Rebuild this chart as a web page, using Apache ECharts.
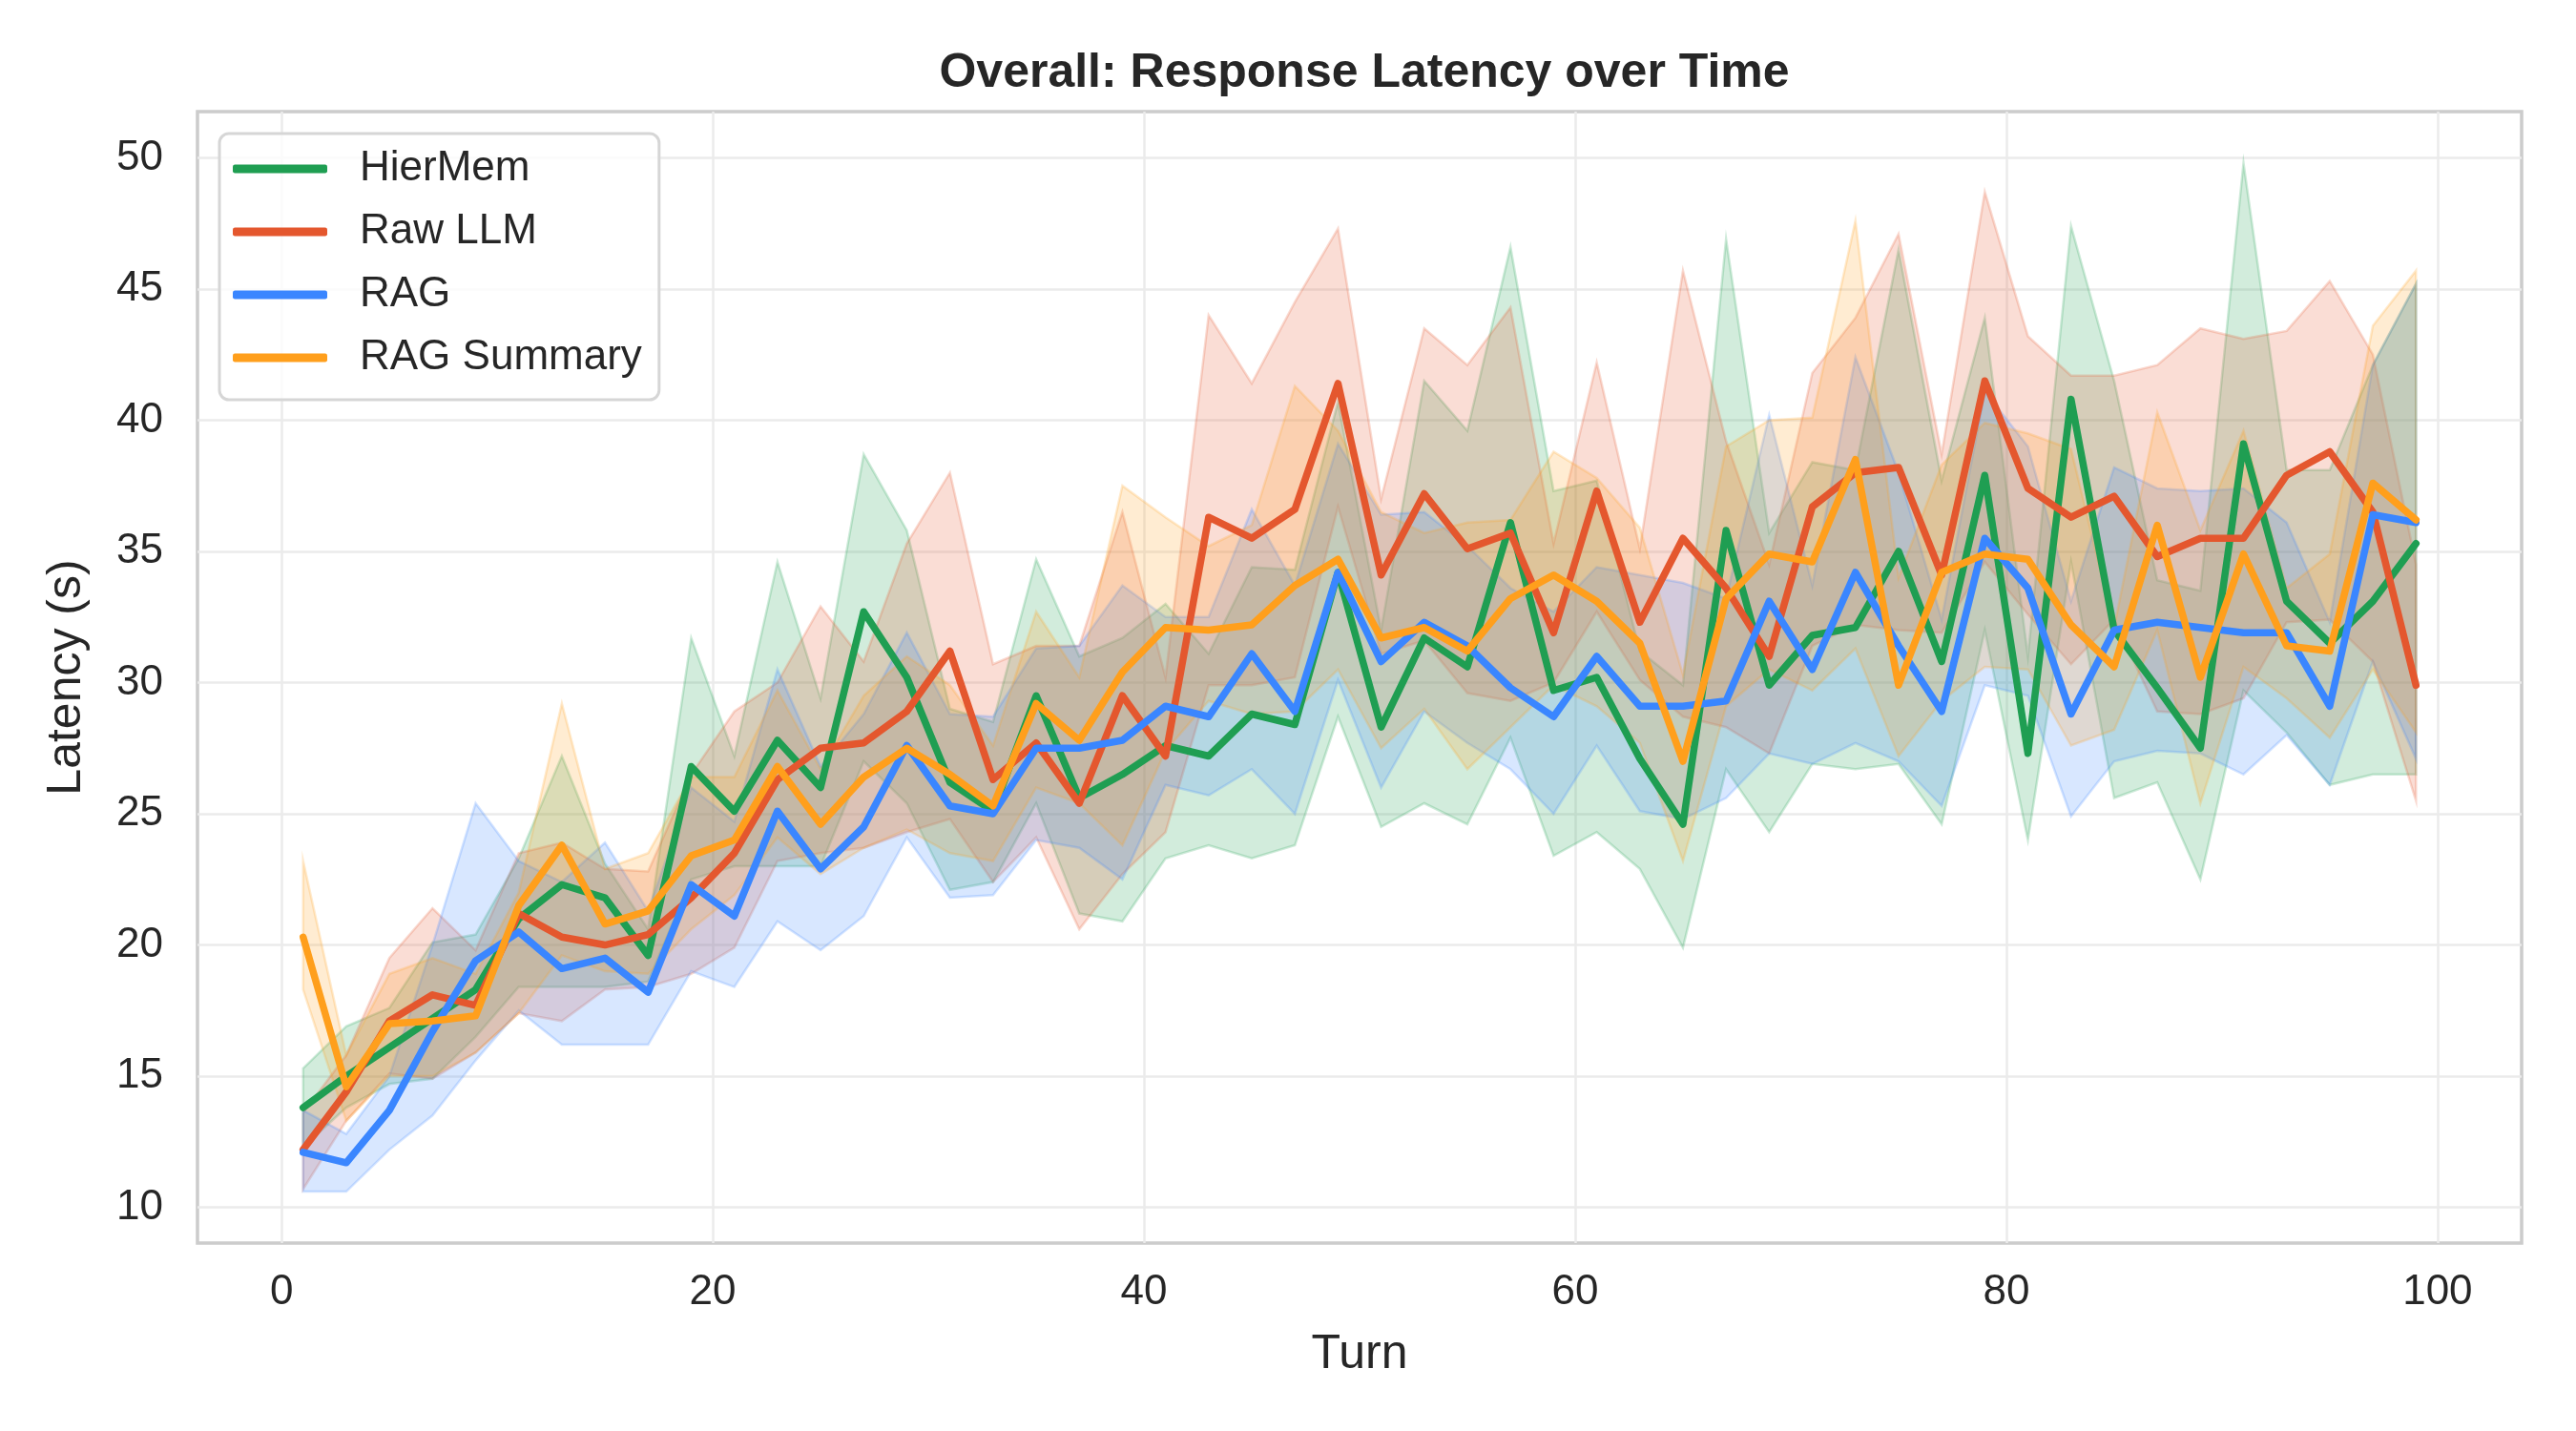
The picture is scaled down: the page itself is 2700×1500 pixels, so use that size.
<!DOCTYPE html>
<html>
<head>
<meta charset="utf-8">
<script src="https://cdn.jsdelivr.net/npm/echarts@6/dist/echarts.min.js"></script>
<style>
html, body { margin: 0; padding: 0; background: #fff; }
#main { width: 2700px; height: 1500px; }
</style>
</head>
<body>
<div id="main"></div>
<script>
// turns on the x axis
const turns = [1, 3, 5, 7, 9, 11, 13, 15, 17, 19, 21, 23, 25, 27, 29, 31, 33, 35, 37, 39,
    41, 43, 45, 47, 49, 51, 53, 55, 57, 59, 61, 63, 65, 67, 69, 71, 73, 75, 77, 79,
    81, 83, 85, 87, 89, 91, 93, 95, 97, 99];

// HierMem
const hierMem = [13.8, 15.0, 16.1, 17.2, 18.3, 21.0, 22.3, 21.8, 19.6, 26.8, 25.1, 27.8, 26.0, 32.7, 30.2, 26.2, 25.1, 29.5, 25.6, 26.5,
    27.6, 27.2, 28.8, 28.4, 34.2, 28.3, 31.7, 30.6, 36.1, 29.7, 30.2, 27.1, 24.6, 35.8, 29.9, 31.8, 32.1, 35.0, 30.8, 37.9,
    27.3, 40.8, 32.0, 29.8, 27.5, 39.1, 33.1, 31.5, 33.1, 35.3];
const hierMemLo = [12.3, 13.8, 14.7, 14.9, 16.5, 18.4, 18.4, 18.4, 18.6, 22.5, 23.0, 23.0, 23.0, 27.0, 25.4, 22.1, 22.4, 25.4, 21.2, 20.9,
    23.3, 23.8, 23.3, 23.8, 28.7, 24.5, 25.4, 24.6, 27.9, 23.4, 24.3, 22.9, 19.9, 26.7, 24.3, 26.9, 26.7, 26.9, 24.6, 32.0,
    24.0, 34.6, 25.6, 26.2, 22.5, 29.7, 28.1, 26.1, 26.5, 26.5];
const hierMemHi = [15.3, 16.9, 17.6, 20.1, 20.4, 23.3, 27.2, 23.1, 20.6, 31.7, 27.2, 34.6, 29.4, 38.7, 35.8, 29.0, 28.5, 34.7, 31.0, 31.7,
    33.0, 31.1, 34.4, 34.3, 40.7, 32.0, 41.5, 39.6, 46.6, 37.3, 37.7, 31.2, 29.9, 46.9, 35.7, 38.4, 38.1, 46.5, 37.7, 43.9,
    31.0, 47.4, 41.5, 33.9, 33.5, 49.8, 38.1, 38.1, 42.1, 45.2];

// Raw LLM
const rawLlm = [12.2, 14.4, 17.1, 18.1, 17.7, 21.2, 20.3, 20.0, 20.4, 21.8, 23.5, 26.3, 27.5, 27.7, 28.9, 31.2, 26.3, 27.7, 25.4, 29.5,
    27.2, 36.3, 35.5, 36.6, 41.4, 34.1, 37.2, 35.1, 35.7, 31.9, 37.3, 32.3, 35.5, 33.6, 31.0, 36.7, 38.0, 38.2, 34.1, 41.5,
    37.4, 36.3, 37.1, 34.8, 35.5, 35.5, 37.9, 38.8, 36.5, 29.9];
const rawLlmLo = [10.7, 13.3, 15.1, 14.9, 15.9, 17.4, 17.1, 18.3, 18.4, 18.9, 19.9, 23.2, 23.5, 23.7, 24.3, 24.8, 22.4, 24.1, 20.6, 22.7,
    24.3, 29.9, 29.9, 30.2, 36.7, 31.1, 31.6, 29.6, 29.3, 30.0, 32.7, 30.1, 28.7, 28.3, 27.3, 31.4, 32.2, 32.0, 31.9, 34.6,
    32.6, 30.7, 32.4, 28.9, 28.8, 29.4, 32.3, 32.4, 30.8, 25.5];
const rawLlmHi = [13.6, 15.8, 19.5, 21.4, 19.8, 23.5, 23.9, 22.9, 22.8, 26.5, 28.9, 30.0, 32.9, 30.8, 35.3, 38.0, 30.7, 31.4, 31.4, 36.5,
    30.2, 44.0, 41.4, 44.5, 47.3, 37.0, 43.5, 42.1, 44.3, 35.3, 42.2, 35.1, 45.7, 39.2, 34.5, 41.8, 43.9, 47.1, 38.7, 48.7,
    43.2, 41.7, 41.7, 42.1, 43.5, 43.1, 43.4, 45.3, 42.5, 34.5];

// RAG
const rag = [12.1, 11.7, 13.7, 16.7, 19.4, 20.5, 19.1, 19.5, 18.2, 22.3, 21.1, 25.1, 22.9, 24.5, 27.6, 25.3, 25.0, 27.5, 27.5, 27.8,
    29.1, 28.7, 31.1, 28.9, 34.2, 30.8, 32.3, 31.4, 29.8, 28.7, 31.0, 29.1, 29.1, 29.3, 33.1, 30.5, 34.2, 31.4, 28.9, 35.5,
    33.6, 28.8, 32.0, 32.3, 32.1, 31.9, 31.9, 29.1, 36.4, 36.1];
const ragLo = [10.6, 10.6, 12.2, 13.5, 15.6, 17.5, 16.2, 16.2, 16.2, 19.0, 18.4, 20.9, 19.8, 21.1, 24.1, 21.8, 21.9, 24.0, 23.7, 22.5,
    26.1, 25.7, 26.7, 25.0, 30.1, 26.0, 28.9, 27.7, 26.7, 25.0, 27.6, 25.1, 24.8, 25.6, 27.3, 26.9, 27.7, 27.0, 25.3, 29.9,
    29.5, 24.9, 27.0, 27.4, 27.3, 26.5, 28.0, 26.1, 30.8, 27.1];
const ragHi = [13.7, 12.8, 15.0, 20.0, 25.4, 23.2, 22.4, 23.9, 21.3, 26.0, 24.7, 30.5, 26.8, 28.8, 31.9, 28.8, 28.7, 31.3, 31.4, 33.7,
    32.5, 32.5, 36.6, 33.7, 39.1, 36.4, 36.5, 35.2, 33.6, 32.7, 34.4, 34.1, 33.8, 33.2, 40.2, 33.7, 42.4, 38.0, 32.4, 41.1,
    39.0, 33.1, 38.2, 37.4, 37.3, 37.4, 36.1, 32.3, 42.1, 45.2];

// RAG Summary
const ragSum = [20.3, 14.6, 17.0, 17.1, 17.3, 21.5, 23.8, 20.8, 21.3, 23.4, 24.0, 26.8, 24.6, 26.4, 27.5, 26.5, 25.3, 29.2, 27.8, 30.4,
    32.1, 32.0, 32.2, 33.7, 34.7, 31.7, 32.1, 31.2, 33.2, 34.1, 33.1, 31.5, 27.0, 33.2, 34.9, 34.6, 38.5, 29.9, 34.2, 34.9,
    34.7, 32.2, 30.6, 36.0, 30.2, 34.9, 31.4, 31.2, 37.6, 36.2];
const ragSumLo = [18.3, 13.3, 15.0, 15.0, 15.9, 17.4, 19.6, 19.0, 18.9, 20.6, 21.9, 24.1, 22.7, 23.7, 24.4, 23.5, 23.2, 26.0, 25.4, 23.8,
    27.4, 29.3, 28.8, 28.9, 30.5, 27.5, 29.0, 26.7, 28.3, 29.9, 29.1, 27.7, 23.2, 29.1, 30.5, 29.7, 31.3, 27.2, 29.3, 30.6,
    30.5, 27.6, 28.2, 32.0, 25.4, 30.6, 29.4, 27.9, 30.5, 28.1];
const ragSumHi = [23.2, 15.8, 18.9, 19.5, 18.9, 22.0, 29.2, 22.9, 23.5, 26.4, 26.4, 29.7, 26.7, 29.5, 31.0, 29.9, 27.6, 32.7, 30.2, 37.5,
    36.3, 35.2, 36.0, 41.3, 39.6, 36.5, 35.7, 36.1, 36.2, 38.8, 37.8, 35.9, 30.3, 39.0, 40.0, 40.1, 47.6, 34.0, 38.3, 39.9,
    39.5, 38.9, 32.1, 40.3, 35.8, 39.6, 33.6, 34.9, 43.6, 45.7];

const xTicks = [0, 20, 40, 60, 80, 100];
const yTicks = [10, 15, 20, 25, 30, 35, 40, 45, 50];

const methods = [
    {name: 'HierMem', color: '#1f9e52', mean: hierMem, lo: hierMemLo, hi: hierMemHi},
    {name: 'Raw LLM', color: '#e4572e', mean: rawLlm, lo: rawLlmLo, hi: rawLlmHi},
    {name: 'RAG', color: '#3a86ff', mean: rag, lo: ragLo, hi: ragHi},
    {name: 'RAG Summary', color: '#ff9f1c', mean: ragSum, lo: ragSumLo, hi: ragSumHi}
];

const font = 'Liberation Sans, Arial, sans-serif';
const textColor = '#262626';

function pairs(ys) {
    return turns.map(function (t, i) { return [t, ys[i]]; });
}

const series = [];
// shaded bands, drawn as one polygon each through the axis scales
methods.forEach(function (m) {
    series.push({
        type: 'custom', silent: true, z: 1,
        data: [[turns[0], m.lo[0]]],
        renderItem: function (params, api) {
            const pts = [];
            turns.forEach(function (t, i) { pts.push(api.coord([t, m.hi[i]])); });
            for (let i = turns.length - 1; i >= 0; i--) pts.push(api.coord([turns[i], m.lo[i]]));
            return {
                type: 'polygon',
                shape: {points: pts},
                style: {
                    fill: echarts.color.modifyAlpha(m.color, 0.2),
                    stroke: echarts.color.modifyAlpha(m.color, 0.22),
                    lineWidth: 2.5
                }
            };
        }
    });
});
// mean lines
methods.forEach(function (m, k) {
    series.push({
        name: m.name, type: 'line', data: pairs(m.mean),
        symbol: 'none', z: 3 + k,
        itemStyle: {color: m.color},
        lineStyle: {color: m.color, width: 7.5, join: 'round', cap: 'round'}
    });
});

const chart = echarts.init(document.getElementById('main'), null, {renderer: 'canvas'});
chart.setOption({
    animation: false,
    backgroundColor: '#ffffff',
    title: {
        text: 'Overall: Response Latency over Time',
        left: 1425, top: 47, textAlign: 'center',
        textStyle: {fontFamily: font, fontSize: 50, fontWeight: 'bold', color: textColor}
    },
    grid: {
        left: 207, right: 57, top: 117, bottom: 197,
        show: true, borderColor: '#cccccc', borderWidth: 3.5, backgroundColor: '#ffffff'
    },
    legend: {
        orient: 'vertical', left: 230, top: 140,
        data: methods.map(function (m) { return m.name; }),
        icon: 'roundRect', itemWidth: 99, itemHeight: 9, itemGap: 22,
        padding: [15, 18, 22, 14],
        borderColor: '#d6d6d6', borderWidth: 3, borderRadius: 10,
        backgroundColor: 'rgba(255,255,255,0.8)',
        textStyle: {fontFamily: font, fontSize: 44, color: textColor, padding: [0, 0, 0, 29]}
    },
    xAxis: {
        type: 'value', min: -3.9, max: 103.9,
        name: 'Turn', nameLocation: 'middle', nameGap: 92,
        nameTextStyle: {fontFamily: font, fontSize: 50, color: textColor},
        axisLine: {show: false},
        axisTick: {show: false, customValues: xTicks},
        axisLabel: {customValues: xTicks, margin: 30, fontFamily: font, fontSize: 44, color: textColor},
        splitLine: {show: true, lineStyle: {color: '#ebebeb', width: 2.5}}
    },
    yAxis: {
        type: 'value', min: 8.64, max: 51.76,
        name: 'Latency (s)', nameLocation: 'middle', nameGap: 112, nameRotate: 90,
        nameTextStyle: {fontFamily: font, fontSize: 50, color: textColor},
        axisLine: {show: false},
        axisTick: {show: false, customValues: yTicks},
        axisLabel: {customValues: yTicks, margin: 36, fontFamily: font, fontSize: 44, color: textColor},
        splitLine: {show: true, lineStyle: {color: '#ebebeb', width: 2.5}}
    },
    series: series
});
</script>
</body>
</html>
